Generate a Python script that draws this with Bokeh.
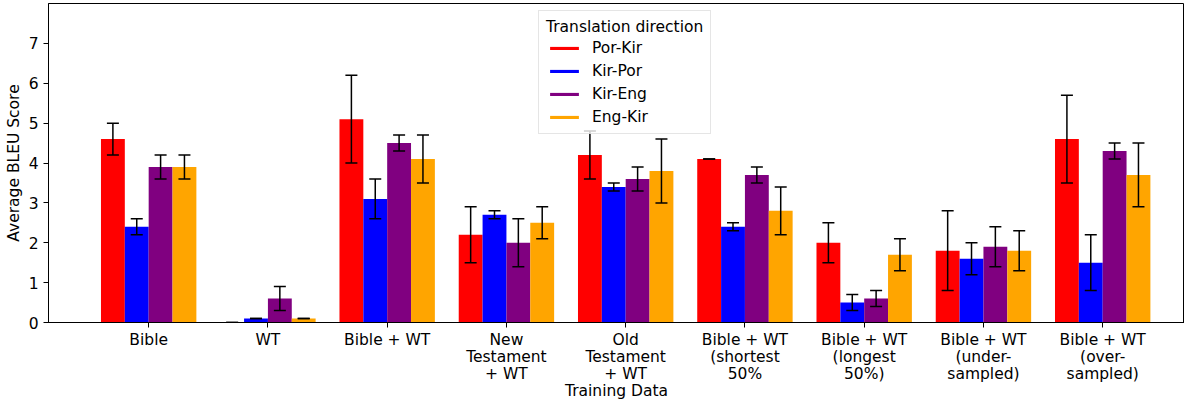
import numpy as np
from bokeh.plotting import figure
from bokeh.models import (ColumnDataSource, Whisker, TeeHead, FixedTicker, Range1d,
                          Legend, LegendItem)
from bokeh.embed import file_html
from bokeh.resources import INLINE

categories = ["Bible", "WT", "Bible + WT", "New\nTestament\n+ WT", "Old\nTestament\n+ WT",
              "Bible + WT\n(shortest\n50%", "Bible + WT\n(longest\n50%)",
              "Bible + WT\n(under-\nsampled)", "Bible + WT\n(over-\nsampled)"]
series_names = ["Por-Kir", "Kir-Por", "Kir-Eng", "Eng-Kir"]
colors = ["red", "blue", "purple", "orange"]

por_kir = [4.6, 0.0, 5.1, 2.2, 4.2, 4.1, 2.0, 1.8, 4.6]
por_kir_err = [0.4, 0.0, 1.1, 0.7, 0.6, 0.0, 0.5, 1.0, 1.1]
kir_por = [2.4, 0.1, 3.1, 2.7, 3.4, 2.4, 0.5, 1.6, 1.5]
kir_por_err = [0.2, 0.0, 0.5, 0.1, 0.1, 0.1, 0.2, 0.4, 0.7]
kir_eng = [3.9, 0.6, 4.5, 2.0, 3.6, 3.7, 0.6, 1.9, 4.3]
kir_eng_err = [0.3, 0.3, 0.2, 0.6, 0.3, 0.2, 0.2, 0.5, 0.2]
eng_kir = [3.9, 0.1, 4.1, 2.5, 3.8, 2.8, 1.7, 1.8, 3.7]
eng_kir_err = [0.3, 0.0, 0.6, 0.4, 0.8, 0.6, 0.4, 0.5, 0.8]

values = [por_kir, kir_por, kir_eng, eng_kir]
errors = [por_kir_err, kir_por_err, kir_eng_err, eng_kir_err]

FONT = "DejaVu Sans"
FS = "15.5px"

p = figure(width=1184, height=402, output_backend="svg", toolbar_location=None,
           x_range=Range1d(-0.84, 8.686), y_range=Range1d(0, 8),
           min_border_left=48, min_border_right=0, min_border_top=3, min_border_bottom=70)
p.xgrid.visible = False
p.ygrid.visible = False
p.outline_line_color = "black"
p.outline_line_width = 1
p.outline_line_alpha = 1
p.background_fill_color = "white"

n = len(categories)
bar_w = 0.2
offsets = [-0.3, -0.1, 0.1, 0.3]
legend_items = []
for name, col, vals, errs, off in zip(series_names, colors, values, errors, offsets):
    xs = np.arange(n) + off
    src = ColumnDataSource(dict(x=xs, top=vals,
                                lower=[v - e for v, e in zip(vals, errs)],
                                upper=[v + e for v, e in zip(vals, errs)]))
    r = p.vbar(x="x", top="top", width=bar_w, bottom=0, source=src,
               fill_color=col, line_color=None)
    legend_items.append(LegendItem(label=name, renderers=[r]))
    w = Whisker(source=src, base="x", lower="lower", upper="upper", dimension="height",
                line_color="black", line_width=1.5, level="overlay",
                upper_head=TeeHead(size=12, line_color="black", line_width=1.5),
                lower_head=TeeHead(size=12, line_color="black", line_width=1.5))
    p.add_layout(w)

legend = Legend(items=legend_items, location=(490, 188), title="Translation direction",
                title_text_font=FONT, title_text_font_size=FS, title_text_font_style="normal",
                title_text_color="black",
                label_text_font=FONT, label_text_font_size=FS, label_text_color="black",
                glyph_width=36, glyph_height=4, label_height=19, spacing=4,
                padding=7, margin=0, title_standoff=2, label_standoff=10,
                border_line_color="#cccccc", border_line_width=1,
                background_fill_color="white", background_fill_alpha=0.8)
p.add_layout(legend, "center")

p.xaxis.ticker = FixedTicker(ticks=list(range(n)))
p.xaxis.major_label_overrides = {i: c for i, c in enumerate(categories)}
p.yaxis.ticker = FixedTicker(ticks=list(range(8)))
for ax in (p.xaxis, p.yaxis):
    ax.major_label_text_font = FONT
    ax.major_label_text_font_size = FS
    ax.major_label_text_color = "black"
    ax.axis_label_text_font = FONT
    ax.axis_label_text_font_size = FS
    ax.axis_label_text_font_style = "normal"
    ax.axis_label_text_color = "black"
    ax.axis_line_color = "black"
    ax.major_tick_line_color = "black"
    ax.major_tick_out = 5
    ax.major_tick_in = 0
    ax.minor_tick_line_color = None
p.xaxis.major_label_text_line_height = 0.95
p.xaxis.major_label_standoff = 3
p.xaxis.axis_label_standoff = -4
p.yaxis.major_label_standoff = 5
p.yaxis.axis_label_standoff = 3
p.xaxis.axis_label = "Training Data"
p.yaxis.axis_label = "Average BLEU Score"

open("out.html", "w").write(file_html(p, INLINE))
